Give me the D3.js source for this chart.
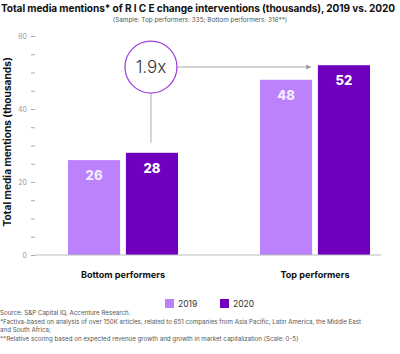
<!DOCTYPE html>
<html>
<head>
<meta charset="utf-8">
<script src="https://cdn.jsdelivr.net/npm/d3@7"></script>
<style>
  body { margin: 0; background: #fff; }
  svg { font-family: Inter, "Open Sans", sans-serif; }
</style>
</head>
<body>
<svg width="400" height="354"></svg>
<script>
// chart data
const groups = ["Bottom performers", "Top performers"];
const years = ["2019", "2020"];
const values2019 = [26, 48];
const values2020 = [28, 52];
const yTicks = [0, 5, 10, 15, 20, 25, 30, 35, 40, 45, 50, 55, 60];
const yLabels = [0, 20, 40, 60];
const multiple = "1.9x";
const footnotes = [
  "Source: S&P Capital IQ, Accenture Research.",
  "*Factiva-based on analysis of over 150K articles, related to 651 companies from Asia Pacific, Latin America, the Middle East",
  "and South Africa;",
  "**Relative scoring based on expected revenue growth and growth in market capitalization (Scale: 0-5)"
];

const colors = {"2019": "#bc82fb", "2020": "#7000bd"};

svg = d3.select("svg");

// title + sample note
title = svg.append("text")
  .attr("x", 1).attr("y", 12)
  .attr("font-size", 10.1).attr("font-weight", 700).attr("fill", "#111")
  .text("Total media mentions* of R I C E change interventions (thousands), 2019 vs. 2020");
// squeeze letters until the title fits in the width
tw = title.node().getComputedTextLength();
if (tw > 394) {
  title.attr("letter-spacing", (394 - tw) / title.text().length);
}
svg.append("text")
  .attr("x", 200).attr("y", 21.5)
  .attr("text-anchor", "middle")
  .attr("font-size", 6.4).attr("fill", "#555")
  .text("(Sample: Top performers: 335; Bottom performers: 316**)");

// scales
yScale = d3.scaleLinear().domain([0, 60]).range([255, 36]);
x0 = d3.scaleBand().domain(groups).range([27, 411])
  .paddingInner(0.427).paddingOuter(0.2135);
x1 = d3.scaleBand().domain(years).range([0, x0.bandwidth()]).paddingInner(0.1);

// y axis ticks (no domain line)
yAxis = svg.append("g")
  .attr("transform", "translate(35,0)")
  .call(d3.axisLeft(yScale).tickValues(yTicks).tickSize(4).tickPadding(4)
    .tickFormat(d => yLabels.includes(d) ? d : ""));
yAxis.select(".domain").remove();
yAxis.selectAll(".tick line").attr("stroke", "#aaa");
yAxis.selectAll(".tick text").attr("fill", "#999").attr("font-size", 7).attr("font-family", "Inter, sans-serif");

svg.append("text")
  .attr("transform", "translate(11," + yScale(31) + ") rotate(-90)")
  .attr("text-anchor", "middle")
  .attr("font-size", 10.2).attr("font-weight", 700).attr("fill", "#111")
  .text("Total media mentions (thousands)");

// bars
rows = groups.map((g, i) => ({group: g, vals: [
  {year: "2019", v: values2019[i]},
  {year: "2020", v: values2020[i]}
]}));

gs = svg.selectAll("g.grp").data(rows).join("g")
  .attr("class", "grp")
  .attr("transform", d => "translate(" + x0(d.group) + ",0)");

gs.selectAll("rect").data(d => d.vals).join("rect")
  .attr("x", d => x1(d.year))
  .attr("y", d => yScale(d.v))
  .attr("width", x1.bandwidth())
  .attr("height", d => yScale(0) - yScale(d.v))
  .attr("fill", d => colors[d.year]);

gs.selectAll("text.val").data(d => d.vals).join("text")
  .attr("class", "val")
  .attr("x", d => x1(d.year) + x1.bandwidth() / 2)
  .attr("y", d => yScale(d.v) + 20)
  .attr("text-anchor", "middle")
  .attr("font-size", 13).attr("font-weight", 800)
  .attr("fill", d => d.year == "2019" ? "#f4eaff" : "#fff")
  .text(d => d.v);

// baseline
svg.append("line")
  .attr("x1", 35).attr("x2", 381)
  .attr("y1", yScale(0)).attr("y2", yScale(0))
  .attr("stroke", "#bbb").attr("stroke-width", 1);

// category labels
svg.selectAll("text.cat").data(groups).join("text")
  .attr("class", "cat")
  .attr("x", d => x0(d) + x0.bandwidth() / 2)
  .attr("y", 278)
  .attr("text-anchor", "middle")
  .attr("font-size", 9.1).attr("font-weight", 700).attr("fill", "#111")
  .text(d => d);

// 1.9x callout
cx = x0(groups[0]) + x1("2020") + x1.bandwidth() / 2 - 1;
cy = yScale(51.5);
r = 26;
svg.append("line")
  .attr("x1", cx).attr("x2", cx)
  .attr("y1", cy + r).attr("y2", yScale(28) - 10)
  .attr("stroke", "#aaa").attr("stroke-width", 1);
defs = svg.append("defs");
defs.append("marker")
  .attr("id", "arr").attr("viewBox", "0 0 10 10")
  .attr("refX", 10).attr("refY", 5)
  .attr("markerWidth", 5).attr("markerHeight", 5)
  .attr("orient", "auto")
  .append("path").attr("d", "M0,0 L10,5 L0,10 z").attr("fill", "#999");
svg.append("line")
  .attr("x1", cx + r).attr("x2", x0(groups[1]) + x1("2019") + x1.bandwidth() - 1)
  .attr("y1", cy).attr("y2", cy)
  .attr("stroke", "#aaa").attr("stroke-width", 1)
  .attr("marker-end", "url(#arr)");
svg.append("circle")
  .attr("cx", cx).attr("cy", cy).attr("r", r)
  .attr("fill", "#fff").attr("stroke", "#a045e0").attr("stroke-width", 1.3);
svg.append("text")
  .attr("x", cx).attr("y", cy + 6)
  .attr("text-anchor", "middle")
  .attr("font-size", 17).attr("font-weight", 300).attr("fill", "#333")
  .text(multiple);

// legend
leg = svg.selectAll("g.leg").data(years).join("g")
  .attr("class", "leg")
  .attr("transform", (d, i) => "translate(" + (165 + i * 55) + ",299)");
leg.append("rect").attr("width", 9).attr("height", 9).attr("fill", d => colors[d]);
leg.append("text").attr("x", 13).attr("y", 8)
  .attr("font-size", 8.5).attr("fill", "#333").text(d => d);

// footnotes
svg.selectAll("text.fn").data(footnotes).join("text")
  .attr("class", "fn")
  .attr("x", 0)
  .attr("y", (d, i) => [315, 323.5, 331.5, 341][i])
  .attr("font-size", 6.2).attr("fill", "#555")
  .text(d => d);
</script>
</body>
</html>
